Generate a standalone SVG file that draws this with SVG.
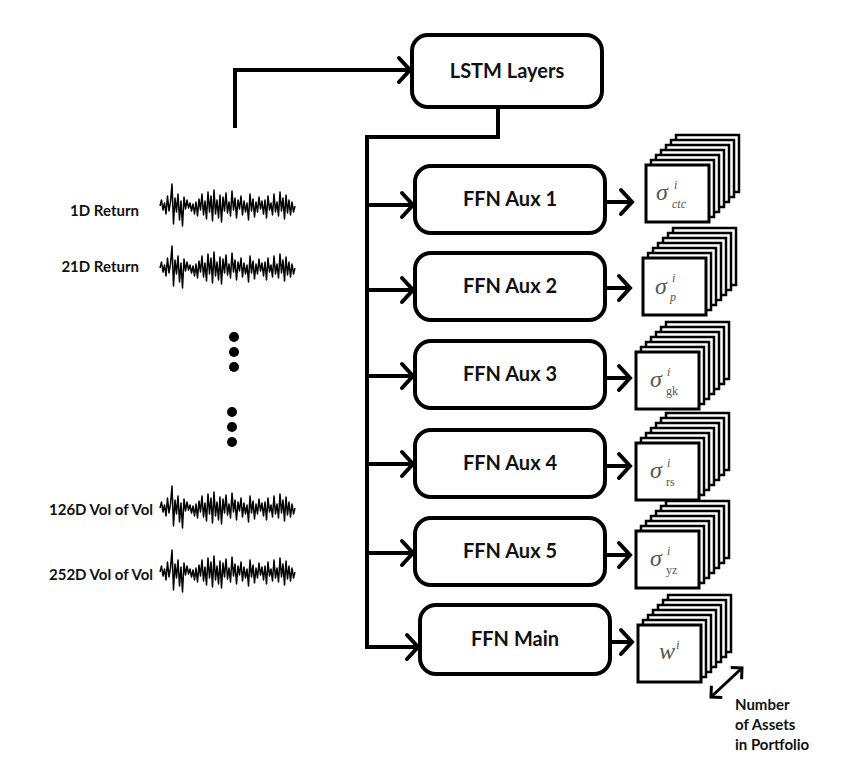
<svg xmlns="http://www.w3.org/2000/svg" xmlns:xlink="http://www.w3.org/1999/xlink" width="850" height="770" viewBox="0 0 850 770">
<style>
.bg{fill:#ffffff}
.box{fill:#ffffff;stroke:#000;stroke-width:4}
.lbl{font-family:Lato,"Liberation Sans",sans-serif;font-weight:bold;font-size:20px;fill:#111;text-anchor:middle}
.in{font-family:Lato,"Liberation Sans",sans-serif;font-weight:bold;font-size:15px;fill:#111;text-anchor:end}
.note{font-family:Lato,"Liberation Sans",sans-serif;font-weight:bold;font-size:15px;fill:#111}
.conn{fill:none;stroke:#000;stroke-width:4;stroke-linejoin:miter}
.ts{fill:none;stroke:#000;stroke-width:1.5;stroke-linejoin:round}
.card{fill:#fff;stroke:#000;stroke-width:2.5}
.front{fill:#fff;stroke:#000;stroke-width:3}
.m{font-family:"Liberation Serif",serif;font-style:italic;fill:#555}
.r{font-style:normal}
.dot{fill:#000}
</style>
<defs>
<marker id="arr" markerUnits="userSpaceOnUse" viewBox="-16 -16 20 32" refX="0" refY="0" markerWidth="20" markerHeight="32" orient="auto">
<path d="M-11,-12 L0,0 L-11,12" fill="none" stroke="#000" stroke-width="4" stroke-linecap="round"/>
</marker>
<marker id="arrS" markerUnits="userSpaceOnUse" viewBox="-12 -12 16 24" refX="0" refY="0" markerWidth="16" markerHeight="24" orient="auto-start-reverse">
<path d="M-8,-8 L0,0 L-8,8" fill="none" stroke="#000" stroke-width="3"/>
</marker>
<path id="series" class="ts" d="M0,0 L1.5,-6 L3,4 L4.5,-3 L6,8 L7.5,-10 L9,5 L10.5,-4 L12,-22 L13.5,18 L15,-8 L16.5,6 L18,-12 L19.5,14 L21,-5 L22.5,20 L24,-9 L25.5,3 L27,-6 L28.5,2 L30,-3 L31.5,5 L33,-2 L34.5,8 L36,-4 L37.5,10 L39,-7 L40.5,4 L42,-12 L43.5,9 L45,-5 L46.5,13 L48,-14 L49.5,6 L51,-10 L52.5,15 L54,-16 L55.5,8 L57,-6 L58.5,12 L60,-11 L61.5,16 L63,-9 L64.5,5 L66,-13 L67.5,7 L69,-4 L70.5,10 L72,-15 L73.5,4 L75,-8 L76.5,12 L78,-6 L79.5,3 L81,-10 L82.5,9 L84,-5 L85.5,6 L87,-3 L88.5,14 L90,-12 L91.5,5 L93,-7 L94.5,11 L96,-4 L97.5,6 L99,-9 L100.5,3 L102,-5 L103.5,8 L105,-6 L106.5,12 L108,-10 L109.5,4 L111,-3 L112.5,9 L114,-12 L115.5,6 L117,-4 L118.5,10 L120,-14 L121.5,5 L123,-8 L124.5,13 L126,-11 L127.5,7 L129,-6 L130.5,9 L132,-4 L133.5,6 L135,0"/>
<g id="cards">
<rect class="card" x="30" y="-30" width="63" height="57"/>
<rect class="card" x="25" y="-25" width="63" height="57"/>
<rect class="card" x="20" y="-20" width="63" height="57"/>
<rect class="card" x="15" y="-15" width="63" height="57"/>
<rect class="card" x="10" y="-10" width="63" height="57"/>
<rect class="card" x="5" y="-5" width="63" height="57"/>
<rect class="front" x="0" y="0" width="63" height="57"/>
</g>
</defs>
<rect class="bg" x="0" y="0" width="850" height="770"/>

<g id="connectors">
<path class="conn" d="M235,128 L235,70 L410,70" marker-end="url(#arr)"/>
<path class="conn" d="M498,107 L498,137 L367,137 L367,647 L418,647" marker-end="url(#arr)"/>
<path class="conn" d="M367,205 L413,205" marker-end="url(#arr)"/>
<path class="conn" d="M367,290 L413,290" marker-end="url(#arr)"/>
<path class="conn" d="M367,376 L413,376" marker-end="url(#arr)"/>
<path class="conn" d="M367,464 L413,464" marker-end="url(#arr)"/>
<path class="conn" d="M367,553 L413,553" marker-end="url(#arr)"/>
<path class="conn" d="M605,202 L632,202" marker-end="url(#arr)"/>
<path class="conn" d="M605,288 L630,288" marker-end="url(#arr)"/>
<path class="conn" d="M605,378 L630,378" marker-end="url(#arr)"/>
<path class="conn" d="M605,466 L630,466" marker-end="url(#arr)"/>
<path class="conn" d="M605,555 L630,555" marker-end="url(#arr)"/>
<path class="conn" d="M610,642 L632,642" marker-end="url(#arr)"/>
<path d="M711,697 L742,668" fill="none" stroke="#000" stroke-width="3" marker-start="url(#arrS)" marker-end="url(#arrS)"/>
</g>

<g id="inputs">
<text class="in" x="139" y="216">1D Return</text>
<use xlink:href="#series" x="160" y="206"/>
<text class="in" x="139" y="272">21D Return</text>
<use xlink:href="#series" x="160" y="268"/>
<circle class="dot" cx="234" cy="337" r="5"/>
<circle class="dot" cx="234" cy="352" r="5"/>
<circle class="dot" cx="234" cy="367" r="5"/>
<circle class="dot" cx="232" cy="412" r="5"/>
<circle class="dot" cx="232" cy="427" r="5"/>
<circle class="dot" cx="232" cy="442" r="5"/>
<text class="in" x="153" y="515">126D Vol of Vol</text>
<use xlink:href="#series" x="160" y="508"/>
<text class="in" x="153" y="580">252D Vol of Vol</text>
<use xlink:href="#series" x="160" y="572"/>
</g>

<g id="lstm">
<rect class="box" x="412" y="35" width="190" height="72" rx="16"/>
<text class="lbl" x="507" y="78">LSTM Layers</text>
</g>
<g id="ffn-aux1">
<rect class="box" x="415" y="166" width="190" height="67" rx="16"/>
<text class="lbl" x="510" y="206">FFN Aux 1</text>
</g>
<g id="ffn-aux2">
<rect class="box" x="415" y="253" width="190" height="67" rx="16"/>
<text class="lbl" x="510" y="293">FFN Aux 2</text>
</g>
<g id="ffn-aux3">
<rect class="box" x="415" y="341" width="190" height="67" rx="16"/>
<text class="lbl" x="510" y="381">FFN Aux 3</text>
</g>
<g id="ffn-aux4">
<rect class="box" x="415" y="430" width="190" height="67" rx="16"/>
<text class="lbl" x="510" y="470">FFN Aux 4</text>
</g>
<g id="ffn-aux5">
<rect class="box" x="415" y="518" width="190" height="67" rx="16"/>
<text class="lbl" x="510" y="558">FFN Aux 5</text>
</g>
<g id="ffn-main">
<rect class="box" x="420" y="605" width="190" height="69" rx="16"/>
<text class="lbl" x="515" y="646">FFN Main</text>
</g>

<g id="out-aux1">
<use xlink:href="#cards" x="646" y="165"/>
<text class="m" x="656" y="200" font-size="24">σ</text>
<text class="m" x="674" y="189" font-size="12">i</text>
<text class="m" x="672" y="208" font-size="12">ctc</text>
</g>
<g id="out-aux2">
<use xlink:href="#cards" x="643" y="258"/>
<text class="m" x="655" y="294" font-size="24">σ</text>
<text class="m" x="672" y="282" font-size="12">i</text>
<text class="m" x="670" y="301" font-size="12">p</text>
</g>
<g id="out-aux3">
<use xlink:href="#cards" x="636" y="352"/>
<text class="m" x="650" y="387" font-size="24">σ</text>
<text class="m" x="667" y="376" font-size="12">i</text>
<text class="m r" x="666" y="395" font-size="12">gk</text>
</g>
<g id="out-aux4">
<use xlink:href="#cards" x="636" y="443"/>
<text class="m" x="650" y="478" font-size="24">σ</text>
<text class="m" x="667" y="467" font-size="12">i</text>
<text class="m r" x="666" y="486" font-size="12">rs</text>
</g>
<g id="out-aux5">
<use xlink:href="#cards" x="636" y="531"/>
<text class="m" x="650" y="566" font-size="24">σ</text>
<text class="m" x="667" y="555" font-size="12">i</text>
<text class="m r" x="666" y="574" font-size="12">yz</text>
</g>
<g id="out-main">
<use xlink:href="#cards" x="638" y="625"/>
<text class="m" x="659" y="659" font-size="24">w</text>
<text class="m" x="676" y="649" font-size="13">i</text>
</g>

<g id="legend">
<text class="note" x="735" y="710">Number</text>
<text class="note" x="735" y="730">of Assets</text>
<text class="note" x="735" y="750">in Portfolio</text>
</g>
</svg>
